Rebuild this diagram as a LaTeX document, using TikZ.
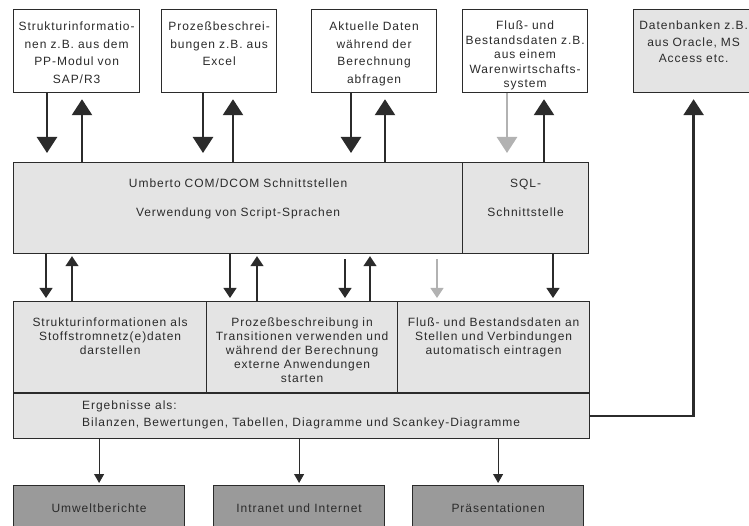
\documentclass[tikz,border=0pt]{standalone}
\usepackage{fontspec}
\setmainfont{Liberation Sans}[LetterSpace=8]
\usetikzlibrary{arrows.meta,positioning}
\definecolor{inkgray}{HTML}{2B2B2B}
\definecolor{panelgray}{HTML}{E4E4E4}
\definecolor{outgray}{HTML}{9A9A9A}
\definecolor{palegray}{HTML}{B2B2B2}
\hyphenpenalty=10000
\exhyphenpenalty=10000

\begin{document}
\begin{tikzpicture}[x=1pt,y=-1pt,
  every node/.style={text=inkgray},
  srcbox/.style={draw=inkgray,line width=1.2pt,fill=white,anchor=north west,
                 inner sep=0pt,align=center,text height=21pt,text depth=62pt,
                 font=\fontsize{12}{17.5}\selectfont},
  hubbox/.style={srcbox,fill=panelgray,text height=25pt,text depth=66pt,
                 font=\fontsize{12}{29}\selectfont},
  taskbox/.style={srcbox,fill=panelgray,text height=25pt,text depth=66pt,
                  font=\fontsize{12}{13.9}\selectfont},
  outbox/.style={draw=inkgray,line width=1.2pt,fill=outgray,anchor=north west,
                 inner sep=0pt,minimum width=171pt,minimum height=46pt,
                 font=\fontsize{12}{14}\selectfont},
  bigarr/.style={line width=2.6pt,draw=inkgray,-{Triangle[width=20pt,length=16pt]}},
  midarr/.style={line width=1.2pt,draw=inkgray,-{Triangle[width=13pt,length=10pt]}},
  smallarr/.style={line width=0.9pt,draw=inkgray,-{Triangle[width=10pt,length=9pt]}},
]
  \useasboundingbox (0,0) rectangle (749,526);

  % data sources
  \node[srcbox,text width=126pt] (sap) at (13,9)
    {Strukturinformatio-\\nen z.B. aus dem\\PP-Modul von\\SAP/R3};
  \node[srcbox,text width=115pt] (excel) at (161,9)
    {Prozeßbeschrei-\\bungen z.B. aus\\Excel};
  \node[srcbox,text width=125pt] (live) at (311,9)
    {Aktuelle Daten\\während der\\Berechnung\\abfragen};
  \node[srcbox,text width=125pt,text height=20pt,text depth=63pt,
        font=\fontsize{12}{14.5}\selectfont] (wws) at (462,9)
    {Fluß- und\\Bestandsdaten z.B.\\aus einem\\Warenwirtschafts-\\system};
  \node[srcbox,fill=panelgray,text width=120pt,text height=20pt,text depth=63pt,
        font=\fontsize{12}{16.5}\selectfont] (db) at (633,9)
    {Datenbanken z.B.\\aus Oracle, MS\\Access etc.};

  % interfaces
  \node[hubbox,text width=449pt] (com) at (13,162)
    {Umberto COM/DCOM Schnittstellen\\Verwendung von Script-Sprachen};
  \node[hubbox,text width=126pt] (sql) at (462,162) {SQL-\\Schnittstelle};

  % inside Umberto
  \node[taskbox,text width=193pt] (netz) at (13,301)
    {Strukturinformationen als\\Stoffstromnetz(e)daten\\darstellen};
  \node[taskbox,text width=191pt] (trans) at (206,301)
    {Prozeßbeschreibung in\\Transitionen verwenden und\\während der Berechnung\\externe Anwendungen\\starten};
  \node[taskbox,text width=192pt] (stellen) at (397,301)
    {Fluß- und Bestandsdaten an\\Stellen und Verbindungen\\automatisch eintragen};
  \node[draw=inkgray,line width=1.2pt,fill=panelgray,anchor=north west,inner sep=0pt,
        minimum width=576pt,minimum height=45pt] (erg) at (13,393) {};
  \node[anchor=north west,align=left,inner sep=0pt,font=\fontsize{12}{17}\selectfont]
    (ergtext) at ([xshift=69pt,yshift=-8pt]erg.north west)
    {Ergebnisse als:\\Bilanzen, Bewertungen, Tabellen, Diagramme und Scankey-Diagramme};

  % outputs
  \node[outbox] (umwelt) at (13,485) {Umweltberichte};
  \node[outbox] (netz2) at (213,485) {Intranet und Internet};
  \node[outbox] (praes) at (412,485) {Präsentationen};

  % sources <-> interfaces
  \draw[bigarr,shorten >=9pt] (sap.south -| 47,0) -- (com.north -| 47,0);
  \draw[bigarr,shorten >=6pt] (com.north -| 82,0) -- (sap.south -| 82,0);
  \draw[bigarr,shorten >=9pt] (excel.south -| 203,0) -- (com.north -| 203,0);
  \draw[bigarr,shorten >=6pt] (com.north -| 233,0) -- (excel.south -| 233,0);
  \draw[bigarr,shorten >=9pt] (live.south -| 351,0) -- (com.north -| 351,0);
  \draw[bigarr,shorten >=6pt] (com.north -| 385,0) -- (live.south -| 385,0);
  \draw[bigarr,draw=palegray,shorten >=9pt] (wws.south -| 507,0) -- (sql.north -| 507,0);
  \draw[bigarr,shorten >=6pt] (sql.north -| 544,0) -- (wws.south -| 544,0);

  % interfaces <-> Umberto
  \draw[midarr,shorten >=3pt] (com.south -| 46,0) -- (netz.north -| 46,0);
  \draw[midarr,shorten >=2pt] (netz.north -| 72,0) -- (com.south -| 72,0);
  \draw[midarr,shorten >=3pt] (com.south -| 230,0) -- (trans.north -| 230,0);
  \draw[midarr,shorten >=2pt] (trans.north -| 257,0) -- (com.south -| 257,0);
  \draw[midarr,shorten <=5pt,shorten >=3pt] (com.south -| 345,0) -- (trans.north -| 345,0);
  \draw[midarr,shorten >=2pt] (trans.north -| 370,0) -- (com.south -| 370,0);
  \draw[midarr,draw=palegray,shorten <=5pt,shorten >=3pt] (com.south -| 437,0) -- (stellen.north -| 437,0);
  \draw[midarr,shorten >=3pt] (sql.south -| 553,0) -- (stellen.north -| 553,0);

  % results
  \draw[bigarr,shorten >=6pt] (erg.east) -| (db.south);
  \draw[smallarr,shorten >=2pt] (erg.south -| umwelt.north) -- (umwelt.north);
  \draw[smallarr,shorten >=2pt] (erg.south -| netz2.north) -- (netz2.north);
  \draw[smallarr,shorten >=2pt] (erg.south -| praes.north) -- (praes.north);
\end{tikzpicture}
\end{document}
